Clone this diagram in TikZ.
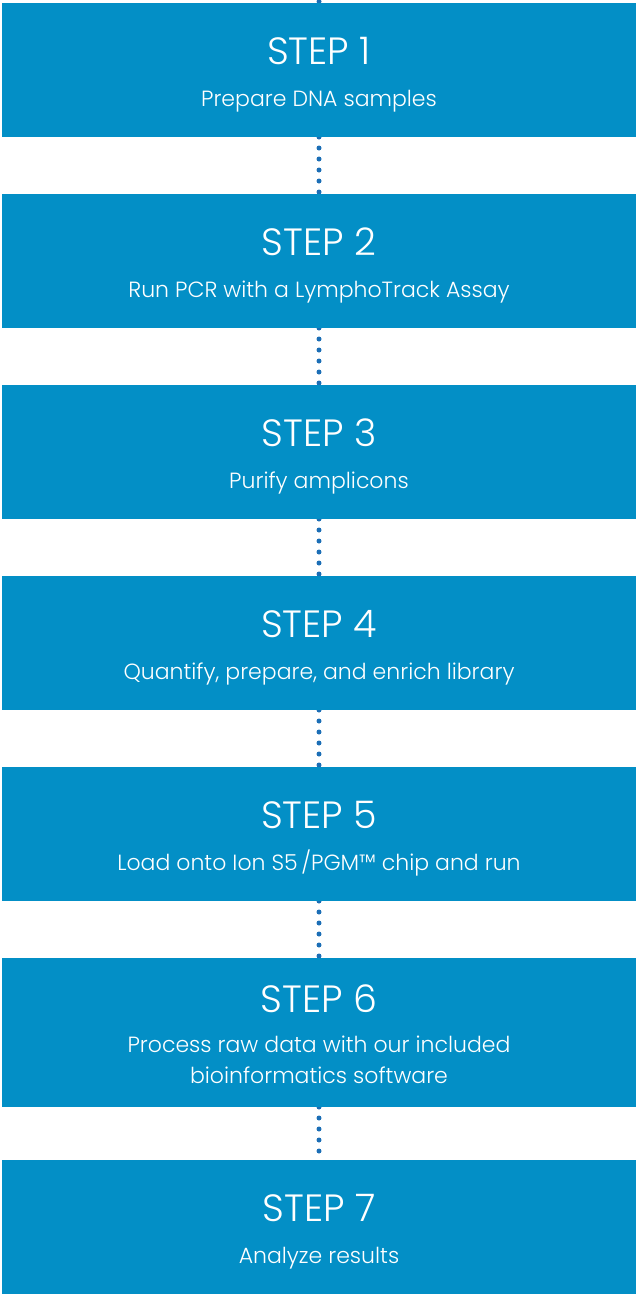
\documentclass[tikz,border=0pt]{standalone}
\usepackage{fontspec}
\setmainfont{Poppins}[UprightFont={* Light}]
\usepackage{tikz}
\usetikzlibrary{
    positioning,
    backgrounds
}
\usepackage{xcolor}
\definecolor{stepblue}{RGB}{3,143,198}
\definecolor{dotblue}{RGB}{27,110,182}

\begin{document}
\begin{tikzpicture}[
    x=1pt, y=1pt,
    node distance=57pt,
    stepbox/.style={rectangle, fill=stepblue, inner sep=0pt, outer sep=0pt, minimum width=634pt, minimum height=134pt},
    steptitle/.style={anchor=base, text=white, font=\fontsize{38}{42}\selectfont},
    stepdesc/.style={anchor=base, text=white, align=center, font=\fontsize{22}{30.6}\selectfont},
    dots/.style={dotblue, line width=5pt, line cap=round, dash pattern=on 0pt off 11pt}
]
\useasboundingbox (0,0) rectangle (636,-1294);

% Boxes
\node[stepbox] (s1) at (319,-70) {};
\node[stepbox, below=of s1] (s2) {};
\node[stepbox, below=of s2] (s3) {};
\node[stepbox, below=of s3] (s4) {};
\node[stepbox, below=of s4] (s5) {};
\node[stepbox, below=of s5, minimum height=149pt] (s6) {};
\node[stepbox, below=53pt of s6] (s7) {};

% Texts
\node[steptitle] (t1) at ([yshift=-61pt]s1.north) {STEP 1};
\node[stepdesc] (d1) at ([yshift=-103pt]s1.north) {Prepare DNA samples};
\node[steptitle] (t2) at ([yshift=-61pt]s2.north) {STEP 2};
\node[stepdesc] (d2) at ([yshift=-103pt]s2.north) {Run PCR with a LymphoTrack Assay};
\node[steptitle] (t3) at ([yshift=-61pt]s3.north) {STEP 3};
\node[stepdesc] (d3) at ([yshift=-103pt]s3.north) {Purify amplicons};
\node[steptitle] (t4) at ([yshift=-61pt]s4.north) {STEP 4};
\node[stepdesc] (d4) at ([yshift=-103pt]s4.north) {Quantify, prepare, and enrich library};
\node[steptitle] (t5) at ([yshift=-61pt]s5.north) {STEP 5};
\node[stepdesc] (d5) at ([yshift=-103pt]s5.north) {Load onto Ion S5\,/PGM™ chip and run};
\node[steptitle] (t6) at ([yshift=-54pt]s6.north) {STEP 6};
% two lines: base anchor sits on the last line
\node[stepdesc] (d6) at ([yshift=-125pt]s6.north) {Process raw data with our included\\bioinformatics software};
\node[steptitle] (t7) at ([yshift=-61pt]s7.north) {STEP 7};
\node[stepdesc] (d7) at ([yshift=-103pt]s7.north) {Analyze results};

% Dotted connectors behind the boxes
\coordinate (top) at (319,-1.5);
\begin{scope}[on background layer]
\draw[dots] (top) -- (s1.north);
\draw[dots] (s1.south) -- (s2.north);
\draw[dots] (s2.south) -- (s3.north);
\draw[dots] (s3.south) -- (s4.north);
\draw[dots] (s4.south) -- (s5.north);
\draw[dots] (s5.south) -- (s6.north);
\draw[dots] (s6.south) -- (s7.north);
\end{scope}

\end{tikzpicture}
\end{document}
